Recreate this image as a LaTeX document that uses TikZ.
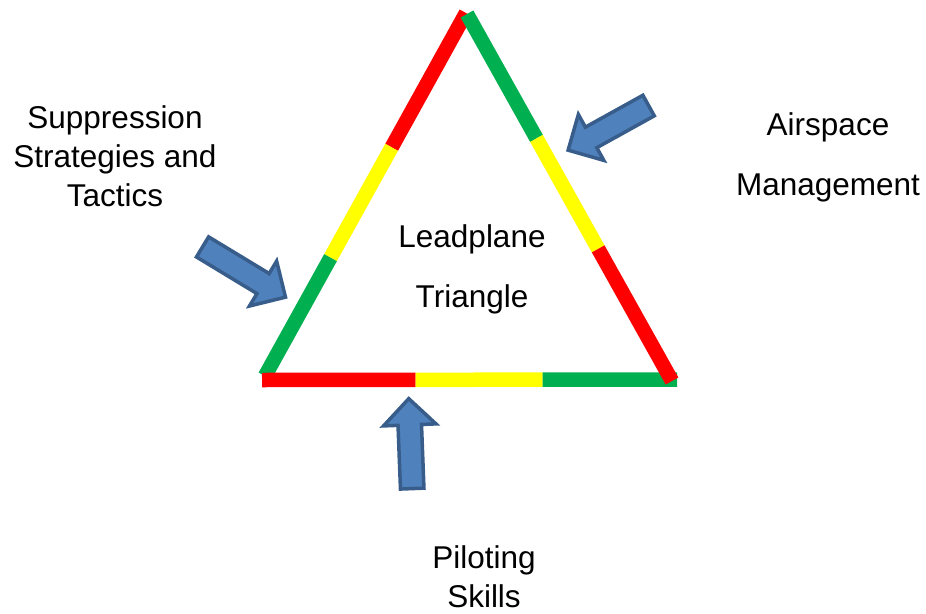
\documentclass[tikz,border=0pt]{standalone}
\usepackage{fontspec}
\setmainfont{Liberation Sans}
\usetikzlibrary{calc,shapes.arrows}
\definecolor{tred}{HTML}{FF0000}
\definecolor{tyellow}{HTML}{FFFF00}
\definecolor{tgreen}{HTML}{00B050}
\definecolor{afill}{HTML}{4F81BD}
\definecolor{aline}{HTML}{385D8A}
\tikzset{
  seg/.style={line width=14.5pt, line cap=butt},
  blockarrow/.style={single arrow, draw=aline, fill=afill, line width=3.5pt,
    minimum width=49pt, single arrow head extend=14.5pt, single arrow tip angle=90,
    inner xsep=0pt, inner ysep=10pt, outer sep=0pt},
  label/.style={align=center, font=\fontsize{31.5}{39}\selectfont, inner sep=0pt},
  labelwide/.style={align=center, font=\fontsize{31.5}{60}\selectfont, inner sep=0pt}
}
\begin{document}
\begin{tikzpicture}[x=1pt,y=-1pt]
\useasboundingbox (0,0) rectangle (926,613);
% triangle corners
\coordinate (AL) at (466,13);
\coordinate (L) at (265,376);
\coordinate (AR) at (467,14);
\coordinate (R) at (672,381);
\coordinate (BL) at (262,380);
\coordinate (BR) at (677,379.5);
% left side
\draw[seg,tred] (AL) -- ($(AL)!0.37!(L)$);
\draw[seg,tyellow] ($(AL)!0.37!(L)$) -- ($(AL)!0.674!(L)$);
\draw[seg,tgreen] ($(AL)!0.674!(L)$) -- (L);
% right side
\draw[seg,tgreen] (AR) -- ($(AR)!0.339!(R)$);
\draw[seg,tyellow] ($(AR)!0.339!(R)$) -- ($(AR)!0.64!(R)$);
% bottom
\draw[seg,tred] (BL) -- ($(BL)!0.37!(BR)$);
\draw[seg,tyellow] ($(BL)!0.37!(BR)$) -- ($(BL)!0.676!(BR)$);
\draw[seg,tgreen] ($(BL)!0.676!(BR)$) -- (BR);
\draw[seg,tred] ($(AR)!0.64!(R)$) -- (R);
% arrows
\node[blockarrow, minimum height=97pt, rotate=-31.2] (arrL) at (239,269) {};
\node[blockarrow, minimum height=92pt, rotate=209] (arrR) at (613.5,125) {};
\node[blockarrow, minimum height=90pt, rotate=92.2] (arrB) at (410.7,449.5) {};
% labels
\node[label] (sup) at (115,156) {Suppression\\Strategies and\\Tactics};
\node[labelwide] (air) at (828,157) {Airspace\\Management};
\node[labelwide] (lead) at (472,269) {Leadplane\\Triangle};
\node[label] (pil) at (484,577) {Piloting\\Skills};
\end{tikzpicture}
\end{document}
